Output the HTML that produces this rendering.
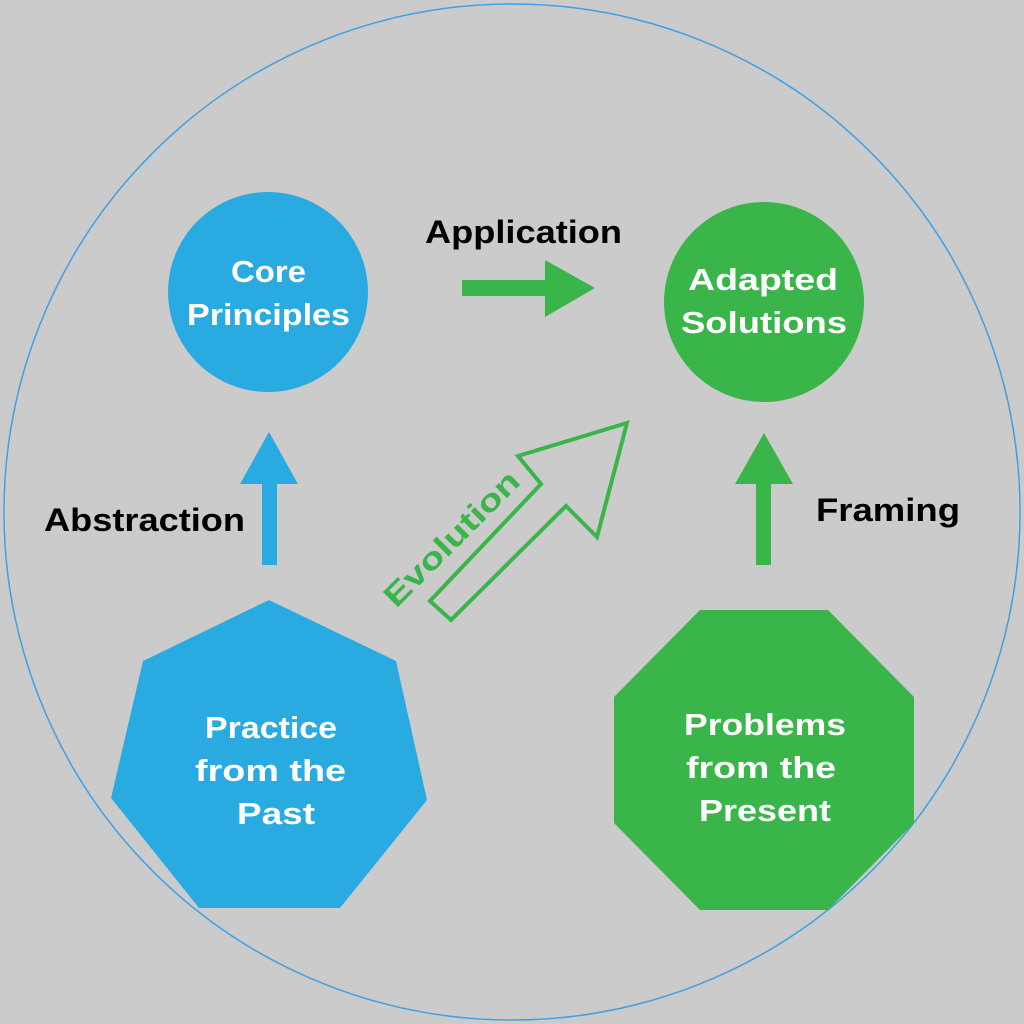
<!DOCTYPE html>
<html><head><meta charset="utf-8"><style>
html,body{margin:0;padding:0;background:#cbcbcb;}
svg{display:block;}
text{font-family:"Liberation Sans",sans-serif;font-weight:bold;}
</style></head><body>
<svg width="1024" height="1024" viewBox="0 0 1024 1024">
<rect width="1024" height="1024" fill="#cbcbcb"/>
<circle cx="512" cy="512" r="508" fill="none" stroke="#3fa0e6" stroke-width="1.5"/>
<circle cx="268" cy="292" r="100" fill="#29abe2"/>
<circle cx="764" cy="302" r="100" fill="#39b54a"/>
<g font-size="31" fill="#fff" lengthAdjust="spacingAndGlyphs">
<text x="231" y="282" textLength="75" lengthAdjust="spacingAndGlyphs">Core</text>
<text x="187" y="325" textLength="163" lengthAdjust="spacingAndGlyphs">Principles</text>
<text x="688" y="290" textLength="150" lengthAdjust="spacingAndGlyphs">Adapted</text>
<text x="681" y="333" textLength="166" lengthAdjust="spacingAndGlyphs">Solutions</text>
<text x="205" y="738" textLength="132" lengthAdjust="spacingAndGlyphs">Practice</text>
<text x="195" y="781" textLength="151" lengthAdjust="spacingAndGlyphs">from the</text>
<text x="237" y="824" textLength="78" lengthAdjust="spacingAndGlyphs">Past</text>
</g>
<!-- Application arrow -->
<polygon points="462,280 545,280 545,260 595,288 545,317 545,296 462,296" fill="#39b54a"/>
<text x="425" y="243" font-size="32" fill="#000" textLength="197" lengthAdjust="spacingAndGlyphs">Application</text>
<!-- Abstraction arrow -->
<polygon points="269,432 298,484 277,484 277,565 262,565 262,484 240,484" fill="#29abe2"/>
<text x="44" y="531" font-size="32" fill="#000" textLength="201" lengthAdjust="spacingAndGlyphs">Abstraction</text>
<!-- Framing arrow -->
<polygon points="764,433 793,484 771,484 771,565 756,565 756,484 735,484" fill="#39b54a"/>
<text x="816" y="521" font-size="32" fill="#000" textLength="144" lengthAdjust="spacingAndGlyphs">Framing</text>
<!-- Evolution arrow -->
<polygon points="430,601 451,620 566,506 597,537 627,423 518,456 541,484" fill="none" stroke="#39b54a" stroke-width="4" stroke-linejoin="miter"/>
<text x="0" y="0" font-size="31" fill="#39b54a" text-anchor="middle" textLength="178" lengthAdjust="spacingAndGlyphs" transform="translate(459,546) rotate(-45)">Evolution</text>
<!-- Heptagon -->
<polygon points="269,600 396,661 427,800 340,908 199,908 111,798 143,661" fill="#29abe2"/>
<g font-size="31" fill="#fff">
<text x="205" y="738" textLength="132" lengthAdjust="spacingAndGlyphs">Practice</text>
<text x="195" y="781" textLength="151" lengthAdjust="spacingAndGlyphs">from the</text>
<text x="237" y="824" textLength="78" lengthAdjust="spacingAndGlyphs">Past</text>
</g>
<!-- Octagon -->
<polygon points="700,610 828,610 914,697 914,823 828,910 700,910 614,823 614,697" fill="#39b54a"/>
<g font-size="31" fill="#fff">
<text x="684" y="735" textLength="162" lengthAdjust="spacingAndGlyphs">Problems</text>
<text x="686" y="778" textLength="150" lengthAdjust="spacingAndGlyphs">from the</text>
<text x="699" y="821" textLength="132" lengthAdjust="spacingAndGlyphs">Present</text>
</g>
</svg>
</body></html>
